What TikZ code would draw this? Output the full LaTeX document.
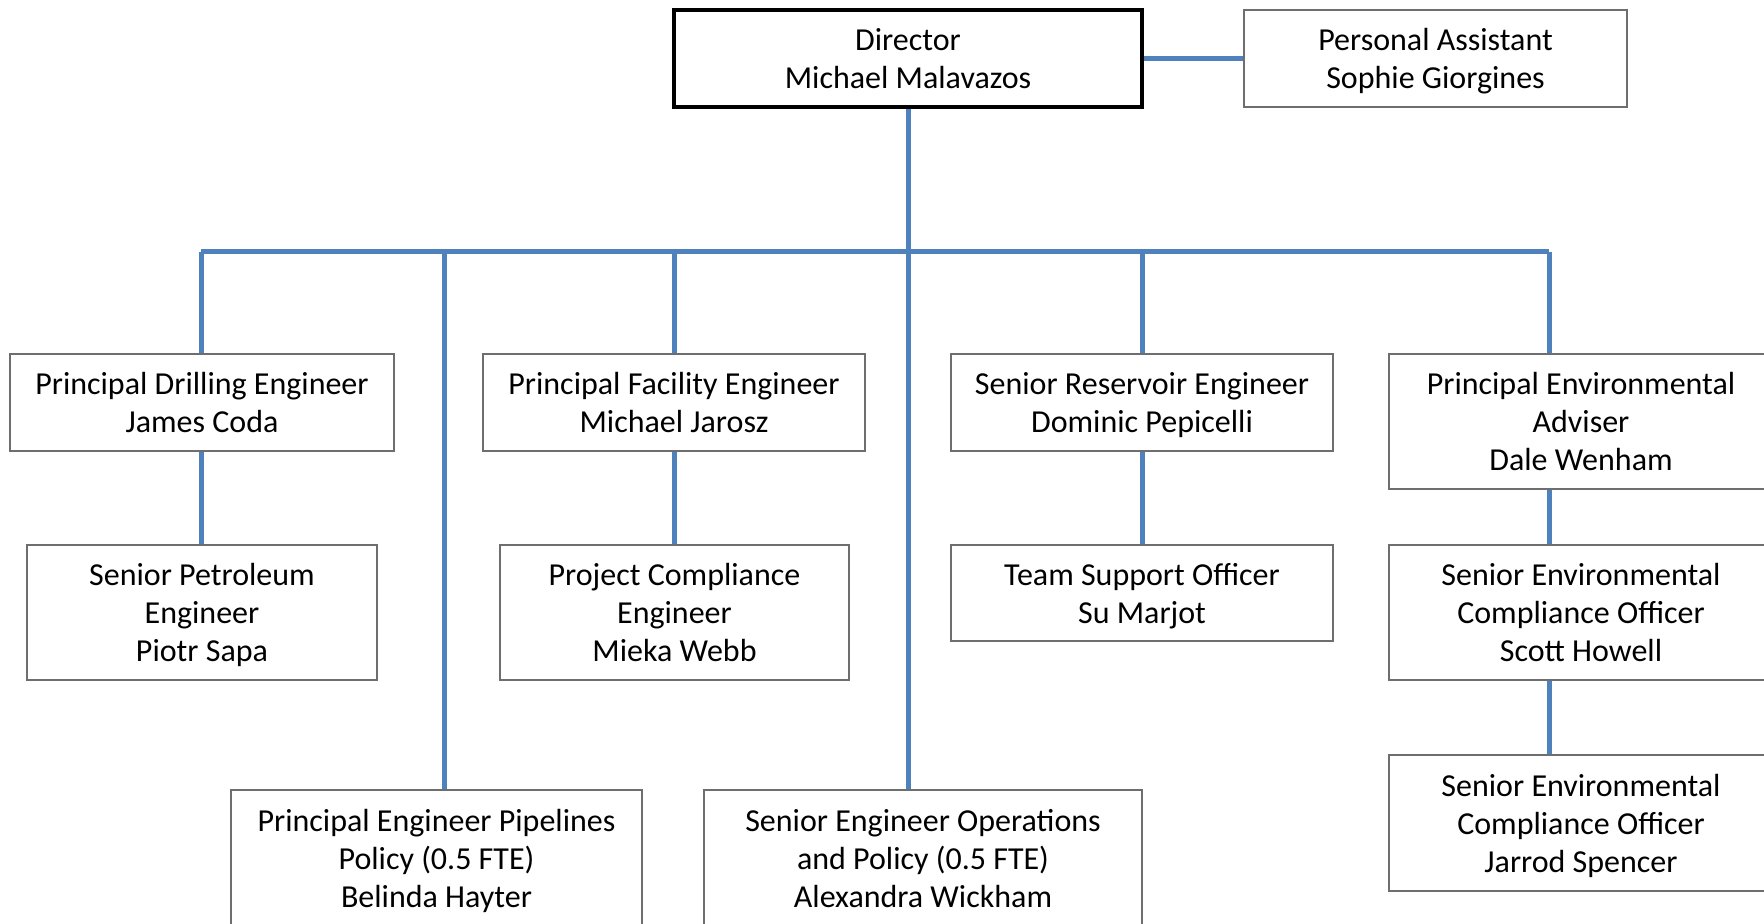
\documentclass[tikz,border=0pt]{standalone}
\usepackage{fontspec}
\setmainfont{Carlito}
\definecolor{linkblue}{HTML}{4F81BD}
\definecolor{boxgray}{HTML}{6E6E6E}
\newcommand\nodepth[1]{\raisebox{0pt}[\height][0pt]{#1}}
\begin{document}
\begin{tikzpicture}[x=0.5pt,y=-0.5pt,
  card/.style={draw=boxgray,line width=0.6pt,fill=white,inner sep=0pt,align=center,
    font=\fontsize{16}{19}\selectfont,minimum width=#1},
  card/.default=192pt,
  boss/.style={card=234pt,draw=black,line width=1.7pt,minimum height=48.5pt},
  short/.style={minimum height=48.5pt},
  tall/.style={minimum height=67.5pt},
  link/.style={draw=linkblue,line width=2.5pt}]
\useasboundingbox (0,0) rectangle (1764,924);
\clip (0,0) rectangle (1764,924);
\fill[white] (0,0) rectangle (1764,924);

% nodes
\node[boss] (dir) at (908,58.5) {Director\\\nodepth{Michael Malavazos}};
\node[card=191.5pt,short] (pa) at (1435.5,58.5) {Personal Assistant\\\nodepth{Sophie Giorgines}};

\node[card=192pt,short] (drill) at (202,402.5) {Principal Drilling Engineer\\\nodepth{James Coda}};
\node[card=175pt,tall] (petro) at (202,612.5) {Senior Petroleum\\Engineer\\\nodepth{Piotr Sapa}};

\node[card=191pt,short] (fac) at (674,402.5) {Principal Facility Engineer\\\nodepth{Michael Jarosz}};
\node[card=174.5pt,tall] (proj) at (674.5,612.5) {Project Compliance\\Engineer\\\nodepth{Mieka Webb}};

\node[card=191pt,short] (res) at (1142,402.5) {Senior Reservoir Engineer\\\nodepth{Dominic Pepicelli}};
\node[card=191pt,minimum height=48pt] (team) at (1142,593) {Team Support Officer\\\nodepth{Su Marjot}};

\node[card=192pt,tall] (env) at (1581,421.5) {Principal Environmental\\Adviser\\\nodepth{Dale Wenham}};
\node[card=192pt,tall] (senv1) at (1581,612.5) {Senior Environmental\\Compliance Officer\\\nodepth{Scott Howell}};
\node[card=192pt,minimum height=68pt] (senv2) at (1581,823) {Senior Environmental\\Compliance Officer\\\nodepth{Jarrod Spencer}};

\node[card=205.5pt,minimum height=68pt] (pipe) at (436.5,858) {Principal Engineer Pipelines\\Policy (0.5 FTE)\\\nodepth{Belinda Hayter}};
\node[card=219pt,minimum height=68pt] (ops) at (923,858) {Senior Engineer Operations\\and Policy (0.5 FTE)\\\nodepth{Alexandra Wickham}};

% bus coordinates
\coordinate (b1) at (201,252);
\coordinate (b2) at (444,252);
\coordinate (b3) at (674,252);
\coordinate (b4) at (908,252);
\coordinate (b5) at (1142,252);
\coordinate (b6) at (1549,252);

% connectors
\draw[link] (dir.east) -- (pa.west);
\draw[link] (dir.south) -- (dir.south |- ops.north);
\draw[link] (b1) -- (b6);
\draw[link] (b1) -- (b1 |- drill.north);
\draw[link] (b2) -- (b2 |- pipe.north);
\draw[link] (b3) -- (b3 |- fac.north);
\draw[link] (b5) -- (b5 |- res.north);
\draw[link] (b6) -- (b6 |- env.north);
\draw[link] (drill.south -| b1) -- (b1 |- petro.north);
\draw[link] (fac.south) -- (proj.north -| fac.south);
\draw[link] (res.south) -- (res.south |- team.north);
\draw[link] (env.south -| b6) -- (b6 |- senv1.north);
\draw[link] (senv1.south -| b6) -- (b6 |- senv2.north);
\end{tikzpicture}
\end{document}
